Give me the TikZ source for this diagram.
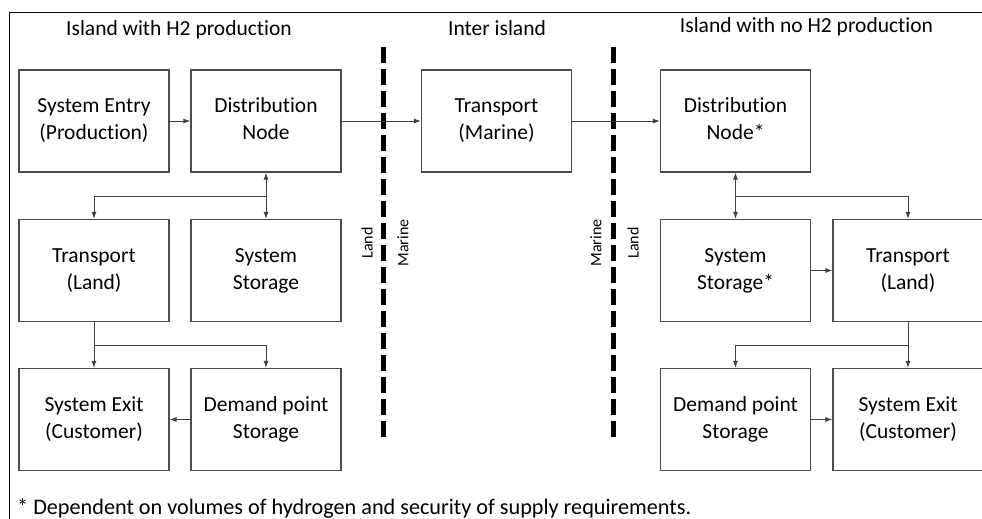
\documentclass[tikz,border=0pt]{standalone}
\usepackage{fontspec}
\setmainfont{Carlito}[Ligatures=NoCommon]
\usetikzlibrary{arrows.meta}
% two-line box caption, set a little below the box centre
\newcommand\boxcaption[1]{\raisebox{-3.5pt}{\begin{tabular}{@{}c@{}}#1\end{tabular}}}
\begin{document}
\begin{tikzpicture}[x=1pt,y=-1pt,
  box/.style={draw=black!70, line width=1.1pt, minimum width=150pt, minimum height=102pt,
    inner sep=0pt, align=center, font=\fontsize{21.5}{27}\selectfont},
  conn/.style={draw=black!75, line width=1pt, -{Latex[length=7pt,width=5pt]}},
  biconn/.style={draw=black!75, line width=1pt, {Latex[length=7pt,width=5pt]}-{Latex[length=7pt,width=5pt]}},
  title/.style={anchor=base, font=\fontsize{21.5}{27}\selectfont, inner sep=0pt},
  side/.style={rotate=90, font=\fontsize{16}{19}\selectfont, inner sep=0pt},
  border/.style={line width=5pt, dash pattern=on 16pt off 6pt}]
\useasboundingbox (0,0) rectangle (982,519);

% outer frame (open at the bottom and right)
\draw[line width=1.6pt] (9.5,530) -- (9.5,12.5) -- (990,12.5);

% section headings
\node[title] (h1) at (179,36) {Island with H2 production};
\node[title] (h2) at (497,36) {Inter island};
\node[title] (h3) at (806.5,33) {Island with no H2 production};

% land / sea boundaries
\draw[border] (383,47) -- (383,438);
\draw[border] (613,47) -- (613,438);
\node[side] (l1) at (367,243) {Land};
\node[side] (m1) at (403,243) {Marine};
\node[side] (m2) at (596,243) {Marine};
\node[side] (l2) at (633,243) {Land};

% producing island
\node[box] (entry) at (94,121) {\boxcaption{System Entry\\(Production)}};
\node[box] (dist) at (266,121) {\boxcaption{Distribution\\Node}};
\node[box] (tland) at (94,270.5) {\boxcaption{Transport\\(Land)}};
\node[box] (sstor) at (266,270.5) {\boxcaption{System\\Storage}};
\node[box] (exitL) at (94,419.5) {\boxcaption{System Exit\\(Customer)}};
\node[box] (dps) at (266,419.5) {\boxcaption{Demand point\\Storage}};

% inter-island link
\node[box] (marine) at (496.5,121) {\boxcaption{Transport\\(Marine)}};

% receiving island
\node[box] (distR) at (735.5,121) {\boxcaption{Distribution\\Node*}};
\node[box] (sstorR) at (735.5,270.5) {\boxcaption{System\\Storage*}};
\node[box] (tlandR) at (908,270.5) {\boxcaption{Transport\\(Land)}};
\node[box] (dpsR) at (735.5,419.5) {\boxcaption{Demand point\\Storage}};
\node[box] (exitR) at (908,419.5) {\boxcaption{System Exit\\(Customer)}};

% branch points
\coordinate (b1) at (266,196);
\coordinate (b2) at (94,345);
\coordinate (b3) at (735.5,196);
\coordinate (b4) at (908,345);

% connectors, producing island
\draw[conn] (entry) -- (dist);
\draw[biconn] (dist) -- (sstor);
\draw[conn] (b1) -| (tland.north);
\draw[conn] (tland) -- (exitL);
\draw[conn] (b2) -| (dps.north);
\draw[conn] (dps) -- (exitL);

% connectors across the sea
\draw[conn] (dist) -- (marine);
\draw[conn] (marine) -- (distR);

% connectors, receiving island
\draw[biconn] (distR) -- (sstorR);
\draw[conn] (b3) -| (tlandR.north);
\draw[conn] (sstorR) -- (tlandR);
\draw[conn] (tlandR) -- (exitR);
\draw[conn] (b4) -| (dpsR.north);
\draw[conn] (dpsR) -- (exitR);

% footnote
\node[anchor=base west, inner sep=0pt, font=\fontsize{22.2}{27}\selectfont] (note) at (17,514)
  {* Dependent on volumes of hydrogen and security of supply requirements.};
\end{tikzpicture}
\end{document}
